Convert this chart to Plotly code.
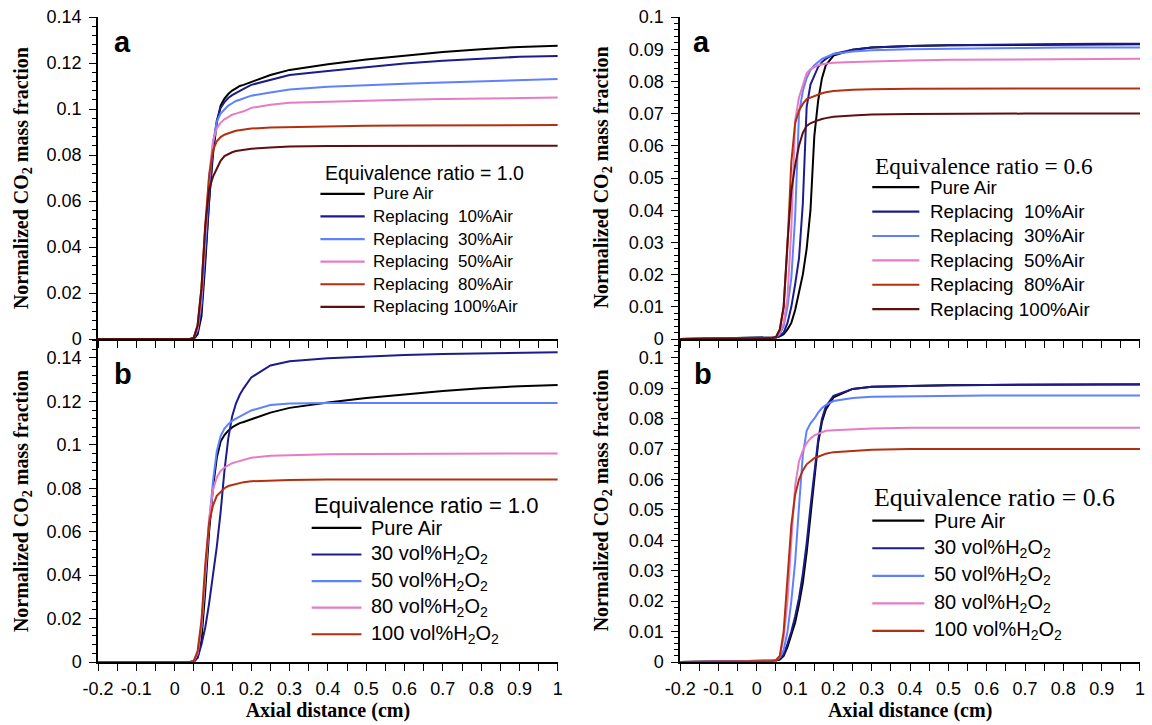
import plotly.graph_objects as go

# ---------------- data ----------------
X = [-0.2, 0.04, 0.05, 0.06, 0.07, 0.08, 0.09, 0.10, 0.11, 0.12, 0.13, 0.14, 0.15,
     0.16, 0.17, 0.18, 0.20, 0.25, 0.30, 0.40, 0.50, 0.60, 0.70, 0.80, 0.90, 1.00]

# (a) phi = 1.0, replacing air
a10_pure = [0, 0, 0, .002, .010, .033, .060, .080, .094, .1015, .1045, .1065, .108, .109, .110, .1105,
            .1118, .1148, .117, .1195, .1215, .1232, .1248, .126, .127, .1275]
a10_r10 = [0, 0, .0005, .003, .013, .037, .063, .083, .095, .1005, .103, .1048, .106, .107, .108, .1088,
           .1105, .1128, .1148, .1165, .1183, .1198, .121, .122, .1227, .123]
a10_r30 = [0, 0, .0005, .004, .016, .042, .067, .085, .0945, .098, .100, .1015, .1025, .1035, .104, .1045,
           .1058, .1072, .1085, .1097, .1105, .111, .1115, .112, .1125, .113]
a10_r50 = [0, 0, .0005, .005, .019, .046, .071, .086, .0915, .094, .0955, .0965, .0975, .098, .0985, .099,
           .1005, .1018, .1027, .1032, .1037, .104, .1043, .1046, .1048, .105]
a10_r80 = [0, 0, .0005, .006, .022, .050, .071, .082, .086, .0878, .0888, .0895, .090, .0905, .0908, .091,
           .0915, .092, .0922, .0925, .0927, .0928, .0929, .093, .093, .093]
a10_r100 = [0, 0, .0005, .006, .022, .049, .065, .0705, .074, .0775, .0795, .0805, .0812, .0817, .082, .0823,
            .0827, .0833, .0837, .0839, .084, .084, .084, .084, .084, .084]

# (a) phi = 0.6, replacing air
a06_pure = [0, .0003, .0005, .0008, .0015, .003, .005, .009, .014, .020, .028, .040, .063, .074, .081, .085,
            .088, .0898, .0905, .091, .0912, .0913, .0914, .0915, .0915, .0915]
a06_r10 = [0, .0003, .0005, .001, .002, .005, .010, .017, .025, .042, .072, .079, .082, .0845, .086, .087,
           .0885, .0898, .0905, .091, .0912, .0914, .0915, .0916, .0917, .0917]
a06_r30 = [0, .0003, .0006, .0015, .004, .010, .019, .038, .070, .077, .081, .0835, .085, .086, .087, .0875,
           .0885, .0893, .0897, .090, .0902, .0903, .0904, .0905, .0905, .0905]
a06_r50 = [0, .0003, .0006, .002, .005, .013, .034, .068, .075, .079, .0825, .0838, .0845, .085, .0853, .0855,
           .0858, .086, .0862, .0865, .0867, .0868, .0869, .087, .087, .087]
a06_r80 = [0, .0003, .0006, .003, .010, .029, .055, .067, .071, .073, .0745, .075, .0755, .076, .0763, .0766,
           .077, .0774, .0776, .0777, .0778, .0778, .0778, .0778, .0778, .0778]
a06_r100 = [0, .0003, .0006, .003, .010, .030, .046, .054, .060, .064, .0662, .067, .0675, .068, .0683, .0686,
            .069, .0694, .0697, .0699, .070, .070, .070, .070, .070, .070]

# (b) phi = 1.0, H2O2
b10_pure = a10_pure
b10_h30 = [0, 0, .0005, .002, .008, .016, .027, .040, .053, .069, .088, .103, .113, .119, .123, .126,
           .131, .1365, .1385, .1398, .1407, .1413, .1418, .1421, .1424, .1426]
b10_h50 = [0, 0, .0005, .004, .016, .040, .064, .083, .097, .104, .1075, .1095, .111, .112, .113, .114,
           .1158, .1183, .119, .1192, .1192, .1192, .1192, .1192, .1192, .1192]
b10_h80 = [0, 0, .0005, .004, .017, .043, .066, .079, .085, .088, .0895, .0905, .0915, .092, .0925, .093,
           .094, .095, .0953, .0956, .0958, .0959, .096, .096, .096, .096]
b10_h100 = [0, 0, .0005, .005, .019, .045, .064, .072, .0765, .0785, .080, .081, .0815, .082, .0825, .0828,
            .0832, .0836, .0838, .084, .084, .084, .084, .084, .084, .084]

# (b) phi = 0.6, H2O2
b06_pure = [0, .0003, .0005, .0008, .002, .005, .009, .013, .019, .026, .036, .048, .060, .072, .079, .083,
            .087, .0898, .0905, .0908, .091, .0911, .0912, .0912, .0912, .0912]
b06_h30 = [0, .0003, .0005, .001, .0025, .006, .010, .015, .021, .029, .039, .051, .063, .073, .080, .084,
           .0875, .0898, .0905, .0908, .091, .0911, .0912, .0913, .0913, .0913]
b06_h50 = [0, .0003, .0006, .0015, .004, .010, .020, .033, .051, .068, .076, .0785, .080, .082, .0835, .0845,
           .0858, .0868, .0872, .0874, .0875, .0876, .0876, .0876, .0876, .0876]
b06_h80 = [0, .0003, .0006, .002, .008, .020, .040, .058, .066, .0695, .072, .0735, .0745, .075, .0755, .076,
           .0762, .0766, .0768, .077, .077, .077, .077, .077, .077, .077]
b06_h100 = [0, .0003, .0006, .002, .010, .027, .045, .055, .060, .063, .065, .066, .067, .0675, .068, .0685,
            .069, .0695, .0698, .070, .070, .070, .070, .070, .070, .070]

air_labels = ["Pure Air", "Replacing&nbsp; 10%Air", "Replacing&nbsp; 30%Air", "Replacing&nbsp; 50%Air",
              "Replacing&nbsp; 80%Air", "Replacing 100%Air"]
h2o2_labels = ["Pure Air", "30 vol%H<sub>2</sub>O<sub>2</sub>", "50 vol%H<sub>2</sub>O<sub>2</sub>",
               "80 vol%H<sub>2</sub>O<sub>2</sub>", "100 vol%H<sub>2</sub>O<sub>2</sub>"]
air_colors = ["#000000", "#1c1c8a", "#5f80ff", "#e57cc4", "#b3300f", "#5e0f0f"]
h2o2_colors = ["#000000", "#1c1c8a", "#5f80ff", "#e57cc4", "#b3300f"]

x_tickvals = [-0.2, -0.1, 0.0, 0.1, 0.2, 0.3, 0.4, 0.5, 0.6, 0.7, 0.8, 0.9, 1.0]
x_ticktext = ["-0.2", "-0.1", "0", "0.1", "0.2", "0.3", "0.4", "0.5", "0.6", "0.7", "0.8", "0.9", "1"]
x_minorvals = [-0.15, -0.05, 0.05, 0.15, 0.25, 0.35, 0.45, 0.55, 0.65, 0.75, 0.85, 0.95]

panels = [
    dict(series=[a10_pure, a10_r10, a10_r30, a10_r50, a10_r80, a10_r100], labels=air_labels,
         colors=air_colors, yrange=[0, 0.14], dtick=0.02, minor=0.004, tag="a",
         title="Equivalence ratio = 1.0"),
    dict(series=[a06_pure, a06_r10, a06_r30, a06_r50, a06_r80, a06_r100], labels=air_labels,
         colors=air_colors, yrange=[0, 0.1], dtick=0.01, minor=0.002, tag="a",
         title="Equivalence ratio = 0.6"),
    dict(series=[b10_pure, b10_h30, b10_h50, b10_h80, b10_h100], labels=h2o2_labels,
         colors=h2o2_colors, yrange=[0, 0.1487], dtick=0.02, minor=0.004, tag="b",
         title="Equivalence ratio = 1.0"),
    dict(series=[b06_pure, b06_h30, b06_h50, b06_h80, b06_h100], labels=h2o2_labels,
         colors=h2o2_colors, yrange=[0, 0.1062], dtick=0.01, minor=0.002, tag="b",
         title="Equivalence ratio = 0.6"),
]

# ---------------- layout geometry (pixels) ----------------
W, H = 1152, 725
ML, MT, MR, MB = 98, 14, 7, 63
PW, PH = W - ML - MR, H - MT - MB


def pxx(xp):
    return (xp - ML) / PW


def pxy(yp):
    return (MT + PH - yp) / PH


xdoms = [[0, pxx(560)], [pxx(683), 1], [0, pxx(560)], [pxx(683), 1]]
ymid = pxy(337.5)
ydoms = [[ymid, 1], [ymid, 1], [0, ymid], [0, ymid]]

SANS = "Liberation Sans, Arial, sans-serif"
SERIF = "Liberation Serif, Times New Roman, serif"

fig = go.Figure()
layout = dict(width=W, height=H, margin=dict(l=ML, r=MR, t=MT, b=MB),
              paper_bgcolor="white", plot_bgcolor="white", showlegend=False)
annotations = []
shapes = []

for i, p in enumerate(panels):
    n = i + 1
    xa = "x" if n == 1 else f"x{n}"
    ya = "y" if n == 1 else f"y{n}"
    for s, c in zip(p["series"], p["colors"]):
        fig.add_trace(go.Scatter(x=X, y=s, mode="lines", xaxis=xa, yaxis=ya,
                                 line=dict(color=c, width=2), showlegend=False, hoverinfo="skip"))
    bottom = n >= 3
    xkey = "xaxis" if n == 1 else f"xaxis{n}"
    ykey = "yaxis" if n == 1 else f"yaxis{n}"
    layout[xkey] = dict(domain=xdoms[i], anchor=ya, range=[-0.2, 1.0], tickmode="array",
                        tickvals=x_tickvals, ticktext=x_ticktext, showticklabels=bottom,
                        minor=dict(tickmode="array", tickvals=x_minorvals, ticks="outside", ticklen=7,
                                   tickwidth=1.2, tickcolor="black"),
                        ticklabeloverflow="allow", ticklabelstandoff=3,
                        ticks="outside", ticklen=7, tickwidth=1.2, tickcolor="black",
                        showline=True, linecolor="black", linewidth=1.5, showgrid=False,
                        zeroline=False, tickfont=dict(family=SANS, size=18, color="black"))
    if bottom:
        layout[xkey]["title"] = dict(text="<b>Axial distance (cm)</b>", standoff=5,
                                     font=dict(family=SERIF, size=20, color="black"))
    layout[ykey] = dict(domain=ydoms[i], anchor=xa, range=p["yrange"], tickmode="linear", tick0=0,
                        dtick=p["dtick"], ticks="outside", ticklen=7, tickwidth=1.2, tickcolor="black",
                        minor=dict(dtick=p["minor"], ticks="outside", ticklen=4, tickcolor="black",
                                   tickwidth=1),
                        ticklabeloverflow="allow",
                        showline=True, linecolor="black", linewidth=1.5, showgrid=False,
                        zeroline=False, ticklabelstandoff=4,
                        tickfont=dict(family=SANS, size=18, color="black"))
    # mirror axes with inward ticks
    m = n + 4
    layout[f"xaxis{m}"] = dict(domain=xdoms[i], anchor=ya, overlaying=xa, side="top", range=[-0.2, 1.0],
                               tickmode="array", tickvals=x_tickvals, showticklabels=False,
                               minor=dict(tickmode="array", tickvals=x_minorvals, ticks="inside", ticklen=7,
                                          tickwidth=1.2, tickcolor="black"),
                               ticks="inside", ticklen=7, tickwidth=1.2, tickcolor="black",
                               showline=True, linecolor="black", linewidth=1.5, showgrid=False,
                               zeroline=False)
    layout[f"yaxis{m}"] = dict(domain=ydoms[i], anchor=xa, overlaying=ya, side="right", range=p["yrange"],
                               tickmode="linear", tick0=0, dtick=p["dtick"], showticklabels=False,
                               ticks="inside", ticklen=7, tickwidth=1.2, tickcolor="black",
                               minor=dict(dtick=p["minor"], ticks="inside", ticklen=4, tickcolor="black",
                                          tickwidth=1),
                               showline=True, linecolor="black", linewidth=1.5, showgrid=False,
                               zeroline=False)

# y-axis titles
for xc, yc in [(22, 175.5), (22, 500), (605, 175.5), (605, 500)]:
    annotations.append(dict(text="<b>Normalized CO<sub>2</sub> mass fraction</b>", textangle=-90,
                            x=pxx(xc), y=pxy(yc), xref="paper", yref="paper", showarrow=False,
                            xanchor="center", yanchor="middle",
                            font=dict(family=SERIF, size=20, color="black")))

# panel tags
for tag, xl, yc in [("a", 112, 39), ("a", 694, 39), ("b", 112, 373), ("b", 695, 373)]:
    annotations.append(dict(text=f"<b>{tag}</b>", x=pxx(xl), y=pxy(yc), xref="paper", yref="paper",
                            showarrow=False, xanchor="left", yanchor="middle",
                            font=dict(family=SANS, size=29, color="black")))

# legends (pixel geometry per panel)
legend_geo = [
    dict(tx=324, ty=170.5, tfont=SANS, tsize=19.5, lx0=321.5, lx1=366, txt=372.5, y0=191.7, dy=22.7, fsize=17),
    dict(tx=876.5, ty=163.3, tfont=SERIF, tsize=23.3, lx0=876, lx1=923.3, txt=931.5, y0=185, dy=24.5,
         fsize=18.8),
    dict(tx=313.3, ty=505, tfont=SANS, tsize=22, lx0=312.7, lx1=362.7, txt=370.5, y0=527.3, dy=26.7, fsize=20),
    dict(tx=876, ty=496.7, tfont=SERIF, tsize=25.8, lx0=876, lx1=928.3, txt=936.5, y0=520, dy=27.7, fsize=20),
]
for p, g in zip(panels, legend_geo):
    annotations.append(dict(text=p["title"], x=pxx(g["tx"]), y=pxy(g["ty"]), xref="paper", yref="paper",
                            showarrow=False, xanchor="left", yanchor="middle",
                            font=dict(family=g["tfont"], size=g["tsize"], color="black")))
    for k, (lab, col) in enumerate(zip(p["labels"], p["colors"])):
        yy = g["y0"] + k * g["dy"]
        shapes.append(dict(type="line", xref="paper", yref="paper", x0=pxx(g["lx0"]), x1=pxx(g["lx1"]),
                           y0=pxy(yy), y1=pxy(yy), line=dict(color=col, width=2.2)))
        annotations.append(dict(text=lab, x=pxx(g["txt"]), y=pxy(yy), xref="paper", yref="paper",
                                showarrow=False, xanchor="left", yanchor="middle",
                                font=dict(family=SANS, size=g["fsize"], color="black")))

layout["annotations"] = annotations
layout["shapes"] = shapes
fig.update_layout(**layout)
fig.write_html("out.html", config={"displayModeBar": False},
               post_script="document.body.style.margin='0';document.body.style.overflow='hidden';")
